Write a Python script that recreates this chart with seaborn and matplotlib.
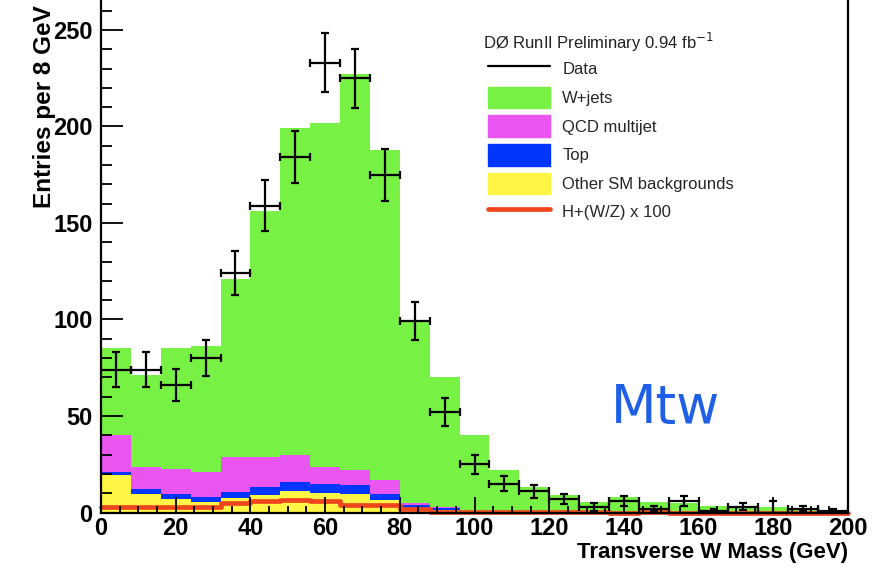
import numpy as np
import pandas as pd
import matplotlib
matplotlib.use("Agg")
import matplotlib.pyplot as plt
import seaborn as sns
from matplotlib.lines import Line2D
from matplotlib.patches import Patch
from matplotlib.ticker import MultipleLocator

# 8 GeV bins of the transverse W mass, 0 - 200 GeV
bin_edges = list(range(0, 208, 8))
bin_centers = [edge + 4 for edge in bin_edges[:-1]]

# stacked simulation, entries per bin
w_jets = [45.0, 47.3, 62.6, 64.9, 92.4, 127.4, 169.2, 178.4, 204.8, 171.2,
          94.2, 67.4, 39.4, 21.6, 12.7, 8.7, 5.3, 7.8, 5.3, 4.8,
          3.4, 2.9, 2.9, 1.4, 1.4]
qcd = [19.0, 11.7, 13.0, 12.9, 17.8, 15.2, 13.8, 8.6, 7.8, 7.2,
       0.9, 0.3, 0.2, 0.1, 0.1, 0.1, 0.1, 0.1, 0.1, 0.1,
       0.0, 0.0, 0.0, 0.0, 0.0]
top = [1.5, 2.4, 2.4, 2.6, 3.5, 4.1, 5.0, 5.1, 5.0, 3.3,
       1.9, 0.8, 0.1, 0.1, 0.1, 0.1, 0.0, 0.0, 0.0, 0.0,
       0.0, 0.0, 0.0, 0.0, 0.0]
other_sm = [19.5, 9.6, 7.0, 5.6, 7.3, 9.3, 11.0, 9.9, 9.4, 6.3,
            2.0, 1.5, 0.3, 0.2, 0.1, 0.1, 0.1, 0.1, 0.1, 0.1,
            0.1, 0.1, 0.1, 0.1, 0.1]

# Higgs signal scaled by 100
signal_x100 = [3.0, 3.0, 3.0, 3.0, 5.0, 6.0, 6.5, 6.0, 4.0, 3.8,
               2.0, 0.4, 0.4, 0.4, 0.4, 0.4, 0.4, 0.0, 0.4, 0.0,
               0.0, 0.0, 0.0, 0.0, 0.0]

# observed data with uncertainties
data_counts = [74, 74, 66, 80, 124, 159, 184, 233, 225, 175,
               99, 52, 25, 15, 11, 7, 3, 6, 2, 6,
               1, 3, 0, 2, 1]
data_err_lo = [9.0, 9.0, 8.3, 9.5, 11.5, 13.0, 13.5, 15.3, 15.3, 13.5,
               9.8, 7.3, 5.0, 3.9, 3.4, 2.7, 2.0, 2.5, 1.4, 2.5,
               1.0, 1.7, 0.0, 1.4, 1.0]
data_err_hi = [9.0, 9.0, 8.3, 9.5, 11.5, 13.0, 13.5, 15.3, 15.3, 13.5,
               9.8, 7.3, 5.0, 3.9, 3.4, 2.7, 2.0, 2.5, 1.4, 2.5,
               1.0, 1.7, 6.0, 1.4, 1.0]

process_order = ["W+jets", "QCD multijet", "Top", "Other SM backgrounds"]
process_colors = {
    "W+jets": "#77F244",
    "QCD multijet": "#E855F0",
    "Top": "#0036FF",
    "Other SM backgrounds": "#FFF544",
}
signal_color = "#F0461E"

sns.set_theme(style="ticks")
plt.rcParams.update({
    "font.family": ["Liberation Sans", "DejaVu Sans"],
    "axes.axisbelow": False,
})

fig = plt.figure(figsize=(8.94, 5.68), dpi=100)
ax = fig.add_axes([101 / 894, 55.5 / 568, 747 / 894, 512.5 / 568])

bkg = pd.concat([
    pd.DataFrame({"mtw": bin_centers, "entries": vals, "process": name})
    for name, vals in zip(process_order, [w_jets, qcd, top, other_sm])
], ignore_index=True)

sns.histplot(data=bkg, x="mtw", weights="entries", hue="process",
             hue_order=process_order, palette=process_colors,
             multiple="stack", bins=bin_edges, element="step", fill=True,
             alpha=1, linewidth=0, legend=False, ax=ax)

sig = pd.DataFrame({"mtw": bin_centers, "entries": signal_x100})
sns.histplot(data=sig, x="mtw", weights="entries", bins=bin_edges,
             element="step", fill=False, color=signal_color, linewidth=3.4,
             clip_on=False, zorder=2, ax=ax)

ax.errorbar(bin_centers, data_counts, xerr=4, yerr=[data_err_lo, data_err_hi],
            fmt="none", ecolor="black", elinewidth=1.6, capsize=2.8,
            capthick=1.6, zorder=3)

ax.set_xlim(0, 200)
ax.set_ylim(0, 265.5)
ax.xaxis.set_major_locator(MultipleLocator(20))
ax.yaxis.set_major_locator(MultipleLocator(50))
ax.tick_params(axis="both", which="both", length=0, top=False, right=False)
ax.tick_params(axis="y", which="major", labelsize=17, pad=6)
ax.tick_params(axis="x", which="major", labelsize=17, pad=3)
plt.setp(ax.get_xticklabels(), fontweight="bold", color="black")
plt.setp(ax.get_yticklabels(), fontweight="bold", color="black")

# inward tick marks, drawn as short segments over the filled stack
y_major = np.arange(0, 251, 50)
y_minor = np.setdiff1d(np.arange(0, 261, 10), y_major)
x_major = np.arange(0, 201, 20)
x_minor = np.setdiff1d(np.arange(0, 201, 5), x_major)


def tick_segments(positions, length, vertical):
    xs, ys = [], []
    for p in positions:
        if vertical:
            xs += [p, p, np.nan]
            ys += [0, length, np.nan]
        else:
            xs += [0, length, np.nan]
            ys += [p, p, np.nan]
    return xs, ys


tick_style = dict(color="black", linewidth=1.3, zorder=2.6, clip_on=False,
                  solid_capstyle="butt")
for positions, length, vertical in [(y_major, 5.9, False), (y_minor, 2.9, False),
                                    (x_major, 7.8, True), (x_minor, 3.6, True)]:
    xs, ys = tick_segments(positions, length, vertical)
    ax.plot(xs, ys, **tick_style)

for side in ("left", "bottom", "right"):
    ax.spines[side].set_color("black")
    ax.spines[side].set_linewidth(1.6)
    ax.spines[side].set_zorder(2.7)
ax.spines["top"].set_visible(False)

ax.set_xlabel("Transverse W Mass (GeV)", loc="right", fontsize=16,
              fontweight="bold", color="black")
ax.xaxis.set_label_coords(1.0, -0.057)
ax.set_ylabel("Entries per 8 GeV", loc="top", fontsize=17.5,
              fontweight="bold", color="black")
ax.yaxis.set_label_coords(-0.06, 0.99)

handles = [
    Line2D([], [], color="black", lw=1.6),
    Patch(color=process_colors["W+jets"]),
    Patch(color=process_colors["QCD multijet"]),
    Patch(color=process_colors["Top"]),
    Patch(color=process_colors["Other SM backgrounds"]),
    Line2D([], [], color=signal_color, lw=3.4),
]
labels = ["Data", "W+jets", "QCD multijet", "Top", "Other SM backgrounds",
          "H+(W/Z) x 100"]
ax.legend(handles, labels, loc="upper left",
          bbox_to_anchor=(488 / 894, 1 - 58 / 568),
          bbox_transform=fig.transFigure, frameon=False, fontsize=12,
          handlelength=3.7, handleheight=1.62, handletextpad=0.75,
          labelspacing=0.42, borderpad=0, borderaxespad=0)

fig.text(483 / 894, 1 - 42 / 568, "DØ RunII Preliminary 0.94 fb$^{-1}$",
         fontsize=12, ha="left", va="center", color="#222222")

fig.text(666 / 894, 1 - 408 / 568, "Mtw", fontsize=38, color="#1F5FE8",
         family=["DejaVu Sans"], ha="center", va="center")

fig.savefig("out.png", dpi=100)
